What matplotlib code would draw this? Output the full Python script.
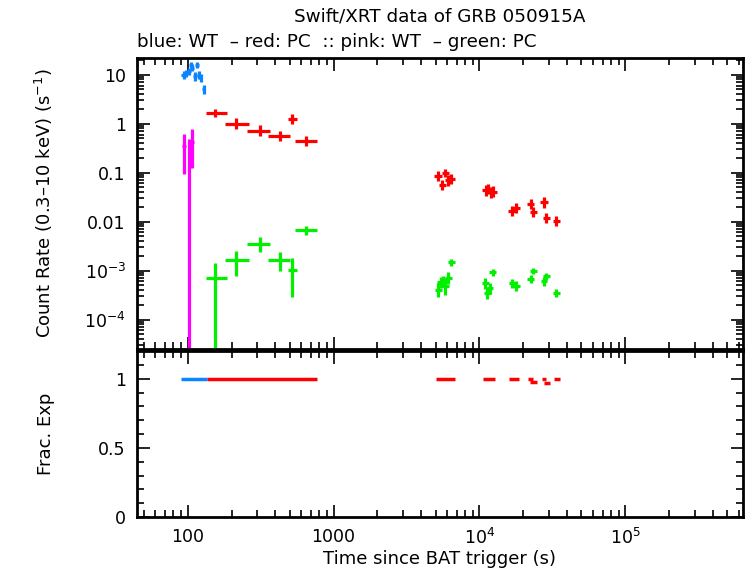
#!/usr/bin/env python3
# coding: utf-8

import numpy as np
import matplotlib
matplotlib.use("Agg")
import matplotlib.pyplot as plt
from matplotlib.ticker import LogLocator, FixedLocator, MultipleLocator, NullFormatter

plt.rcParams['font.family'] = ['DejaVu Sans']
plt.rcParams['mathtext.fontset'] = 'dejavusans'

BLUE = '#0a85ff'
RED = '#ff0000'
PINK = '#ff00ff'
GREEN = '#00f000'

# WT count rate (blue)
wt_t = [94, 98, 102, 105, 108, 113, 116, 119, 123, 129]
wt_dt = [3.5, 3.5, 3.5, 3, 3, 3.5, 3, 3.5, 3.5, 3.5]
wt_rate = [10.0, 10.8, 12.0, 16.0, 14.0, 9.3, 16.0, 10.0, 8.7, 5.1]
wt_err = [1.8, 1.8, 2.0, 2.5, 2.3, 1.8, 2.5, 1.8, 1.6, 1.1]

# PC count rate (red)
pc_t = [155, 214, 313, 428, 520, 643,
        5220, 5560, 5830, 6120, 6390,
        11100, 11500, 11960, 12460,
        16800, 17900, 22400, 23450, 27750, 28770, 33700]
pc_tlo = [134, 180, 255, 356, 485, 546,
          4900, 5250, 5500, 5780, 6030,
          10450, 10850, 11300, 11750,
          15800, 16850, 21100, 22100, 26150, 27100, 31750]
pc_thi = [185, 262, 370, 501, 562, 773,
          5530, 5880, 6180, 6480, 6780,
          11750, 12200, 12650, 13200,
          17800, 18950, 23700, 24850, 29400, 30450, 35700]
pc_rate = [1.67, 0.99, 0.71, 0.57, 1.26, 0.44,
           0.087, 0.057, 0.099, 0.070, 0.074,
           0.0436, 0.046, 0.040, 0.041,
           0.0162, 0.019, 0.023, 0.016, 0.0248, 0.012, 0.0103]
pc_lo = [1.38, 0.76, 0.55, 0.44, 0.97, 0.35,
         0.068, 0.044, 0.080, 0.054, 0.059,
         0.033, 0.036, 0.031, 0.032,
         0.0128, 0.015, 0.018, 0.0125, 0.0190, 0.0095, 0.0080]
pc_hi = [2.0, 1.28, 0.95, 0.72, 1.6, 0.55,
         0.108, 0.072, 0.12, 0.090, 0.092,
         0.056, 0.058, 0.052, 0.053,
         0.0205, 0.024, 0.029, 0.020, 0.032, 0.015, 0.013]

# WT soft band (pink)
wtb_t = [94, 103, 107]
wtb_dt = [3, 3, 3]
wtb_rate = [0.35, 0.25, 0.42]
wtb_lo = [0.094, 0.0, 0.125]
wtb_hi = [0.61, 0.49, 0.78]

# PC soft band (green)
pcb_t = [155, 214, 313, 428, 520, 643,
         5220, 5420, 5650, 5830, 6120, 6420,
         10970, 11330, 11800, 12330,
         16800, 17900, 22400, 23450, 27750, 28770, 33700]
pcb_tlo = [134, 180, 255, 356, 485, 546,
           4950, 5130, 5350, 5520, 5800, 6080,
           10400, 10750, 11200, 11700,
           15900, 16950, 21200, 22200, 26300, 27250, 31900]
pcb_thi = [185, 262, 370, 501, 562, 773,
           5500, 5720, 5960, 6150, 6450, 6780,
           11550, 11950, 12450, 13000,
           17700, 18850, 23600, 24700, 29250, 30300, 35500]
pcb_rate = [7.1e-4, 1.65e-3, 3.56e-3, 1.65e-3, 1.03e-3, 6.8e-3,
            4.1e-4, 5.8e-4, 6.1e-4, 4.9e-4, 7.1e-4, 1.5e-3,
            5.6e-4, 3.5e-4, 4.4e-4, 9.2e-4,
            5.6e-4, 4.9e-4, 6.8e-4, 9.8e-4, 6.1e-4, 7.6e-4, 3.5e-4]
pcb_lo = [0.0, 7.6e-4, 2.4e-3, 9.7e-4, 2.9e-4, 5.4e-3,
          2.9e-4, 4.4e-4, 4.7e-4, 3.2e-4, 5.2e-4, 1.25e-3,
          4.2e-4, 2.6e-4, 3.3e-4, 7.6e-4,
          4.5e-4, 3.8e-4, 5.6e-4, 8.4e-4, 4.9e-4, 6.3e-4, 2.9e-4]
pcb_hi = [1.44e-3, 2.56e-3, 4.8e-3, 2.44e-3, 1.8e-3, 8.3e-3,
          5.6e-4, 7.4e-4, 7.8e-4, 7.0e-4, 9.3e-4, 1.75e-3,
          7.1e-4, 4.6e-4, 5.6e-4, 1.08e-3,
          6.8e-4, 6.2e-4, 8.2e-4, 1.12e-3, 7.4e-4, 9.0e-4, 4.2e-4]

# fractional exposure segments
fe_start = [90.5, 136, 5050, 10600, 16000, 21500, 22300, 27000, 27700, 32500]
fe_end = [136, 770, 6800, 12800, 18800, 23200, 24700, 28600, 30500, 35400]
fe_frac = [1.0, 1.0, 1.0, 1.0, 1.0, 1.0, 0.975, 1.0, 0.97, 1.0]
fe_color = [BLUE, RED, RED, RED, RED, RED, RED, RED, RED, RED]


def asym(val, lo, hi, floor=1e-12):
    val = np.asarray(val, float)
    lo = np.maximum(np.asarray(lo, float), floor)
    hi = np.asarray(hi, float)
    return [val - lo, hi - val]


def style_axis(ax):
    ax.tick_params(which='both', direction='in', top=True, right=True,
                   width=1.2, labelsize=12.5)
    ax.tick_params(which='major', length=9, pad=8)
    ax.tick_params(which='minor', length=5)
    for s in ax.spines.values():
        s.set_linewidth(2)


fig = plt.figure(figsize=(7.46, 5.68), dpi=100)
ax1 = fig.add_axes([0.1836, 0.3856, 0.8124, 0.5124])
ax2 = fig.add_axes([0.1836, 0.0898, 0.8124, 0.2922], sharex=ax1)

ekw = dict(fmt='none', elinewidth=2.3, capsize=0)
ax1.errorbar(wt_t, wt_rate, xerr=wt_dt, yerr=wt_err, ecolor=BLUE, **ekw)
ax1.errorbar(pc_t, pc_rate,
             xerr=[np.subtract(pc_t, pc_tlo), np.subtract(pc_thi, pc_t)],
             yerr=asym(pc_rate, pc_lo, pc_hi), ecolor=RED, **ekw)
ax1.errorbar(wtb_t, wtb_rate, xerr=wtb_dt, yerr=asym(wtb_rate, wtb_lo, wtb_hi),
             ecolor=PINK, **ekw)
ax1.errorbar(pcb_t, pcb_rate,
             xerr=[np.subtract(pcb_t, pcb_tlo), np.subtract(pcb_thi, pcb_t)],
             yerr=asym(pcb_rate, pcb_lo, pcb_hi), ecolor=GREEN, **ekw)

ax1.set_xscale('log')
ax1.set_yscale('log')
ax1.set_xlim(45, 6.4e5)
ax1.set_ylim(2.5e-5, 22)
ax1.yaxis.set_major_locator(FixedLocator([1e-4, 1e-3, 1e-2, 0.1, 1, 10]))
ax1.set_yticklabels(['$10^{-4}$', '$10^{-3}$', '0.01', '0.1', '1', '10'])
ax1.yaxis.set_minor_locator(LogLocator(base=10, subs=np.arange(2, 10), numticks=20))
ax1.yaxis.set_minor_formatter(NullFormatter())
ax1.tick_params(axis='x', labelbottom=False)
ax1.set_ylabel('Count Rate (0.3–10 keV) (s$^{-1}$)', fontsize=13)
ax1.yaxis.set_label_coords(-0.135, 0.5)
style_axis(ax1)

for s, e, f, c in zip(fe_start, fe_end, fe_frac, fe_color):
    ax2.plot([s, e], [f, f], color=c, lw=2.5, solid_capstyle='butt')
ax2.set_ylim(0, 1.2)
ax2.yaxis.set_major_locator(FixedLocator([0, 0.5, 1]))
ax2.set_yticklabels(['0', '0.5', '1'])
ax2.yaxis.set_minor_locator(MultipleLocator(0.1))
ax2.xaxis.set_major_locator(FixedLocator([100, 1000, 1e4, 1e5]))
ax2.set_xticklabels(['100', '1000', '$10^4$', '$10^5$'])
ax2.xaxis.set_minor_locator(LogLocator(base=10, subs=np.arange(2, 10), numticks=20))
ax2.xaxis.set_minor_formatter(NullFormatter())
ax2.set_ylabel('Frac. Exp', fontsize=13)
ax2.yaxis.set_label_coords(-0.135, 0.5)
ax2.set_xlabel('Time since BAT trigger (s)', fontsize=13, labelpad=1)
style_axis(ax2)

fig.text(0.59, 0.962, 'Swift/XRT data of GRB 050915A', ha='center', fontsize=13.2)
fig.text(0.1836, 0.918, 'blue: WT  – red: PC  :: pink: WT  – green: PC',
         ha='left', fontsize=13.2)

fig.savefig('out.png', dpi=100)
